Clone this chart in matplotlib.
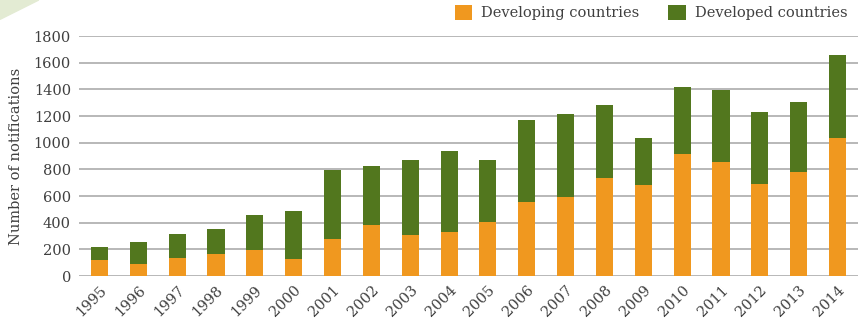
import matplotlib.pyplot as plt
from matplotlib.patches import Polygon
import numpy as np

years = [str(y) for y in range(1995, 2015)]
developing = [118, 88, 133, 163, 195, 128, 276, 380, 305, 328,
              403, 553, 590, 735, 683, 913, 853, 688, 778, 1033]
total = [215, 253, 313, 350, 455, 485, 793, 823, 868, 935,
         868, 1168, 1213, 1282, 1033, 1415, 1393, 1228, 1303, 1655]
developed = [t - d for t, d in zip(total, developing)]

orange = '#F0981F'
green = '#52771E'
text_col = '#404040'

plt.rcParams['font.family'] = ['DejaVu Serif']

fig = plt.figure(figsize=(8.62, 3.23), dpi=100)
ax = fig.add_axes([0.092, 0.1455, 0.903, 0.743])

x = np.arange(len(years))
ax.bar(x, developing, width=0.44, color=orange, label='Developing countries', zorder=3)
ax.bar(x, developed, width=0.44, bottom=developing, color=green,
       label='Developed countries', zorder=3)

ax.set_ylim(0, 1800)
ax.set_xlim(-0.52, len(years) - 0.48)
ax.set_yticks(range(0, 1801, 200))
ax.yaxis.grid(True, color='#ABABAB', linewidth=1.2, zorder=0)
ax.set_axisbelow(True)
for s in ax.spines.values():
    s.set_visible(False)

ax.set_xticks(x)
ax.set_xticklabels(years, rotation=45, ha='right', rotation_mode='anchor')
ax.tick_params(axis='both', length=0, labelsize=10.5, colors=text_col)
ax.tick_params(axis='y', pad=6)
ax.tick_params(axis='x', pad=5)
ax.set_ylabel('Number of notifications', fontsize=10.5, color=text_col, labelpad=8)

fig.legend(loc='upper right', bbox_to_anchor=(0.998, 1.025), ncol=2, frameon=False,
           fontsize=10.5, handlelength=1.2, handleheight=1.2, columnspacing=2.0,
           handletextpad=0.6, labelcolor=text_col)

# decorative corner
fig.patches.append(Polygon([[0, 1], [0.045, 1], [0, 0.94]], closed=True,
                           transform=fig.transFigure, color='#E3EBD3', zorder=0))

fig.savefig('out.png', dpi=100)
